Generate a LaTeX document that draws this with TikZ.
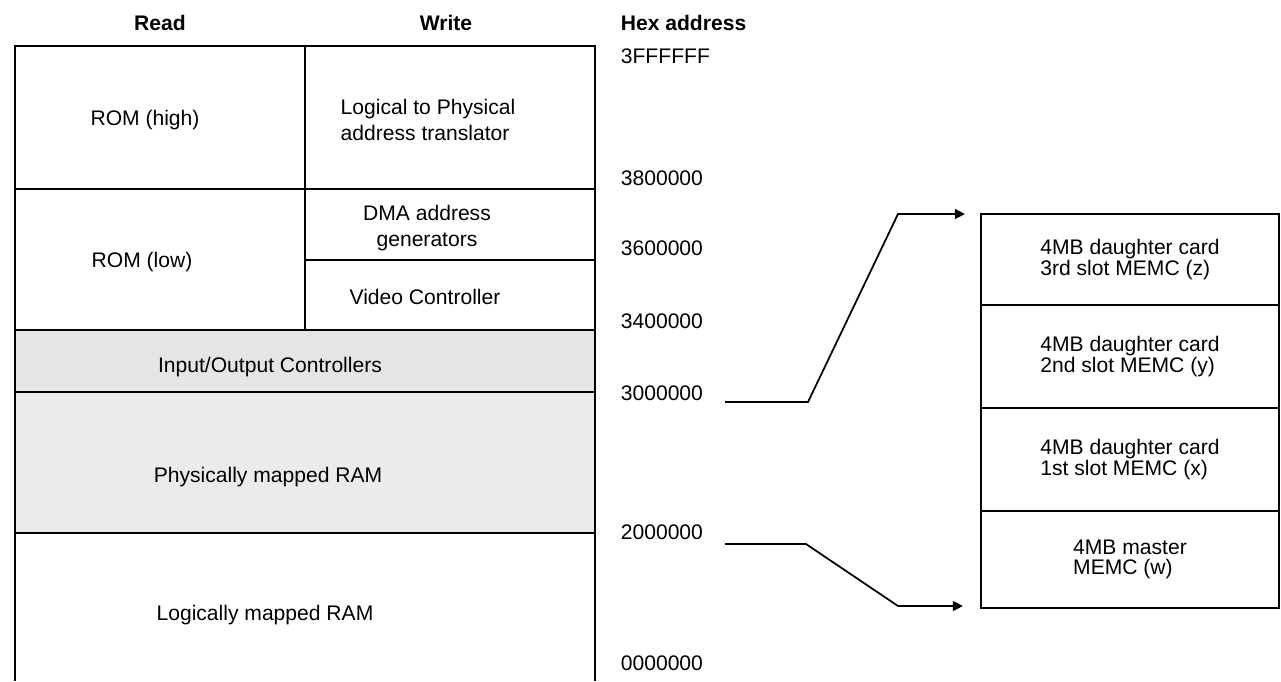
\documentclass[tikz,border=0pt]{standalone}
\usepackage{fontspec}
\setmainfont{Liberation Sans}
\usetikzlibrary{positioning,arrows.meta}
\begin{document}
\begin{tikzpicture}[>={Triangle[length=5.7pt,width=5.5pt]},x=0.02cm,y=-0.02cm,line width=1pt,
	txt/.style={font=\fontsize{12}{14.5}\selectfont,inner sep=0pt},
	head/.style={font=\bfseries\fontsize{12}{14.5}\selectfont,inner sep=0pt},
	hex/.style={txt,anchor=west},
	card/.style={draw,font=\fontsize{12}{11.5}\selectfont,align=left,minimum width=5.96cm,inner sep=0pt}]
	\useasboundingbox (0,0) rectangle (1281,681);
	% shaded part of the map
	\fill[black!10] (15,330) rectangle (595,392);
	\fill[black!8] (15,392) rectangle (595,533);
	\draw (15,681)--(15,46)--(595,46)--(595,681);
	\draw (305,46)--(305,330);
	\draw (15,189)--(595,189);
	\draw (305,260)--(595,260);
	\draw (15,330)--(595,330);
	\draw (15,392)--(595,392);
	\draw (15,533)--(595,533);
	\node[head] (read) at (160,23) {Read};
	\node[head] (write) at (446,23) {Write};
	\node[head,anchor=west] (hexhead) at (620,23) {Hex address};
	\node[txt] (romhigh) at (145,120) {ROM (high)};
	\node[txt,align=left] (translator) at (428,120) {Logical to Physical\\address translator};
	\node[txt] (romlow) at (142,262) {ROM (low)};
	\node[txt,align=center] (dma) at (427,228) {DMA address\\generators};
	\node[txt] (video) at (425,297) {Video Controller};
	\node[txt] (io) at (270,367) {Input/Output Controllers};
	\node[txt] (physram) at (268,477) {Physically mapped RAM};
	\node[txt] (logram) at (265,615) {Logically mapped RAM};
	% hex addresses
	\foreach \a/\y in {3FFFFFF/56,3800000/178,3600000/248,3400000/321,3000000/393,2000000/532,0000000/663}
		\node[hex] (h\a) at (620,\y) {\a};
	% memory controllers
	\node[card,minimum height=1.82cm] (memcz) at (1130,259.5) {4MB daughter card\\3rd slot MEMC (z)};
	\node[card,minimum height=2.06cm] (memcy) at (1130,356.5) {4MB daughter card\\2nd slot MEMC (y)};
	\node[card,minimum height=2.06cm] (memcx) at (1130,459.5) {4MB daughter card\\1st slot MEMC (x)};
	\node[card,minimum height=1.94cm] (memcw) at (1130,559.5) {4MB master\\MEMC (w)};
	\coordinate (upfrom) at (725,402);
	\coordinate (uptip) at (965,214);
	\coordinate (lowfrom) at (725,544);
	\coordinate (lowtip) at (963,606);
	\draw[->] (upfrom)--(808,402)--(898,214)--(uptip);
	\draw[->] (lowfrom)--(806,544)--(898,606)--(lowtip);
\end{tikzpicture}
\end{document}
